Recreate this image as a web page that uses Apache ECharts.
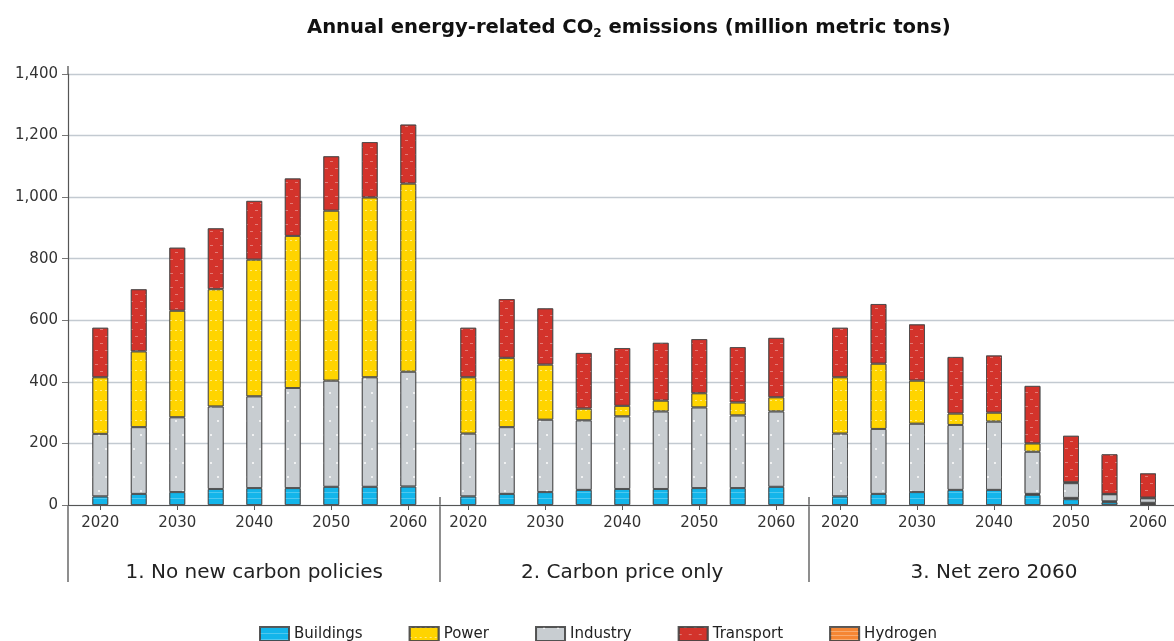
<!DOCTYPE html>
<html>
<head>
<meta charset="utf-8">
<title>Annual energy-related CO2 emissions</title>
<script src="https://cdn.jsdelivr.net/npm/echarts@6/dist/echarts.min.js"></script>
<style>
    html, body { margin: 0; padding: 0; background: #fff; }
    #chart { width: 1174px; height: 641px; }
</style>
</head>
<body>
<div id="chart"></div>
<script>
    // x categories and y ticks
    const years = ['2020', '2025', '2030', '2035', '2040', '2045', '2050', '2055', '2060'];
    const yTicks = [0, 200, 400, 600, 800, 1000, 1200, 1400];
    const scenarios = ['1. No new carbon policies', '2. Carbon price only', '3. Net zero 2060'];
    const legendOrder = ['Buildings', 'Power', 'Industry', 'Transport', 'Hydrogen'];

    // 1. No new carbon policies
    const buildingsNoPolicy = [28, 36, 42, 52, 55, 55, 59, 59, 60];
    const hydrogenNoPolicy = [0, 0, 0, 0, 0, 0, 0, 0, 0];
    const industryNoPolicy = [203, 217, 243, 268, 298, 325, 345, 356, 373];
    const powerNoPolicy = [184, 246, 346, 381, 444, 494, 552, 584, 611];
    const transportNoPolicy = [161, 202, 205, 198, 191, 187, 177, 180, 192];

    // 2. Carbon price only
    const buildingsPrice = [28, 36, 42, 49, 52, 52, 55, 55, 59];
    const hydrogenPrice = [0, 0, 0, 0, 0, 0, 0, 0, 0];
    const industryPrice = [204, 217, 235, 226, 236, 252, 262, 236, 245];
    const powerPrice = [183, 225, 179, 38, 34, 35, 46, 42, 46];
    const transportPrice = [161, 191, 183, 181, 188, 188, 176, 180, 193];

    // 3. Net zero 2060
    const buildingsNetZero = [28, 36, 42, 49, 49, 33, 19, 9, 4];
    const hydrogenNetZero = [0, 0, 0, 0, 0, 3, 4, 3, 3];
    const industryNetZero = [204, 211, 222, 211, 222, 137, 48, 23, 15];
    const powerNetZero = [183, 212, 140, 37, 29, 27, 3, 1, 2];
    const transportNetZero = [161, 194, 183, 184, 186, 187, 151, 129, 79];

    const groups = [
        {Buildings: buildingsNoPolicy, Hydrogen: hydrogenNoPolicy, Industry: industryNoPolicy, Power: powerNoPolicy, Transport: transportNoPolicy},
        {Buildings: buildingsPrice, Hydrogen: hydrogenPrice, Industry: industryPrice, Power: powerPrice, Transport: transportPrice},
        {Buildings: buildingsNetZero, Hydrogen: hydrogenNetZero, Industry: industryNetZero, Power: powerNetZero, Transport: transportNetZero}
    ];
    // bottom-up stacking order
    const stackOrder = ['Buildings', 'Hydrogen', 'Industry', 'Power', 'Transport'];

    const styles = {
        Buildings: {
            color: '#13b5ea',
            decal: {symbol: 'rect', symbolSize: 1, color: 'rgba(255,255,255,0.25)', dashArrayX: [[1, 0]], dashArrayY: [1, 5]}
        },
        Power: {
            color: '#ffd400',
            decal: {symbol: 'rect', symbolSize: 1, color: 'rgba(255,255,255,0.5)', dashArrayX: [[2, 3]], dashArrayY: [1, 9]}
        },
        Industry: {
            color: '#c8cdd1',
            decal: {symbol: 'rect', symbolSize: 1, color: 'rgba(255,255,255,0.7)', dashArrayX: [[2, 12], [0, 7, 2, 5]], dashArrayY: [2, 12]}
        },
        Transport: {
            color: '#d3332b',
            decal: {symbol: 'rect', symbolSize: 1, color: 'rgba(255,255,255,0.35)', dashArrayX: [[3, 7], [0, 5, 3, 2]], dashArrayY: [1, 6]}
        },
        Hydrogen: {
            color: '#f58634',
            decal: {symbol: 'rect', symbolSize: 1, color: 'rgba(255,255,255,0.3)', dashArrayX: [[1, 0]], dashArrayY: [1, 3]}
        }
    };

    const font = 'DejaVu Sans';
    const gridTop = 74, gridBottom = 136, bandW = 346.5;
    const gridLefts = [81, 449, 820.75];

    const grid = [{left: 68, right: 0, top: gridTop, bottom: gridBottom}];
    const xAxis = [{
        gridIndex: 0, type: 'category', data: [''],
        axisLine: {show: true, lineStyle: {color: '#555', width: 1.2}},
        axisTick: {show: false}, axisLabel: {show: false}
    }];
    const yAxis = [{
        gridIndex: 0, type: 'value', min: yTicks[0], max: yTicks[yTicks.length - 1], interval: 200,
        axisLine: {show: true, lineStyle: {color: '#555', width: 1.2}},
        axisTick: {show: true, length: 6, lineStyle: {color: '#777'}},
        axisLabel: {fontFamily: font, fontSize: 15, color: '#333', margin: 10,
            formatter: v => v.toLocaleString('en-US')},
        splitLine: {lineStyle: {color: '#c3cad1', width: 1.3}}
    }];
    const series = [];

    groups.forEach((g, i) => {
        const idx = i + 1;
        grid.push({left: gridLefts[i], width: bandW, top: gridTop, bottom: gridBottom});
        xAxis.push({
            gridIndex: idx, type: 'category', data: years,
            axisLine: {show: false},
            axisTick: {show: true, interval: 1, alignWithLabel: true, length: 5, lineStyle: {color: '#555'}},
            axisLabel: {interval: 1, fontFamily: font, fontSize: 15, color: '#333', margin: 11},
            name: scenarios[i], nameLocation: 'middle', nameGap: 58,
            nameTextStyle: {fontFamily: font, fontSize: 20, color: '#222'}
        });
        yAxis.push({gridIndex: idx, type: 'value', min: 0, max: 1400, show: false});
        stackOrder.forEach(name => {
            series.push({
                name: name, type: 'bar', stack: 'g' + idx,
                xAxisIndex: idx, yAxisIndex: idx, barWidth: 16,
                itemStyle: {
                    color: styles[name].color, decal: styles[name].decal,
                    borderColor: 'rgba(70,70,70,0.7)', borderWidth: 1
                },
                emphasis: {disabled: true},
                data: g[name].map(v => v === 0 ? null : v)
            });
        });
    });

    const sepStyle = {stroke: '#444', lineWidth: 1.2};
    const option = {
        animation: false,
        title: {
            text: 'Annual energy-related CO{sub|2} emissions (million metric tons)',
            left: 302, top: 11,
            textStyle: {
                fontFamily: font, fontSize: 19.6, fontWeight: 'bold', color: '#111',
                rich: {sub: {fontFamily: font, fontSize: 12, fontWeight: 'bold', color: '#111', padding: [12, 0, 0, 0]}}
            }
        },
        legend: {
            data: legendOrder, left: 254, top: 621, icon: 'rect',
            itemWidth: 29, itemHeight: 14, itemGap: 46,
            textStyle: {fontFamily: font, fontSize: 15, color: '#222'},
            selectedMode: false
        },
        grid: grid,
        xAxis: xAxis,
        yAxis: yAxis,
        series: series,
        graphic: [
            {type: 'line', shape: {x1: 68, y1: 66, x2: 68, y2: 74}, style: sepStyle},
            {type: 'line', shape: {x1: 68, y1: 505, x2: 68, y2: 582}, style: sepStyle},
            {type: 'line', shape: {x1: 440, y1: 497, x2: 440, y2: 582}, style: sepStyle},
            {type: 'line', shape: {x1: 809, y1: 497, x2: 809, y2: 582}, style: sepStyle}
        ]
    };

    const myChart = echarts.init(document.getElementById('chart'));
    myChart.setOption(option);
</script>
</body>
</html>
